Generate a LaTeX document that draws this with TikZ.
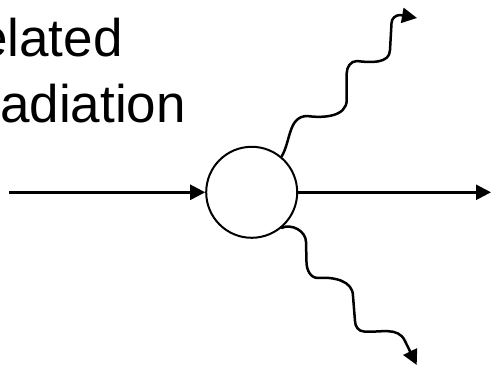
\documentclass[tikz,border=0pt]{standalone}
\usepackage{fontspec}
\setmainfont{Liberation Sans}
\usepackage{tkz-euclide}
\usetikzlibrary{arrows.meta}

\begin{document}
\begin{tikzpicture}[x=1pt,y=1pt,line join=round,
    ray/.style={line width=2.5pt,-{Triangle[length=15pt,width=15pt]}},
    wave/.style={ray,line cap=round},
    lbl/.style={anchor=base west,inner sep=0pt,font=\fontsize{53}{66}\selectfont}]
    \useasboundingbox (0,0) rectangle (491,366);
    \tkzDefPoints{9/173.7/L,491/173.7/R,251.7/173.7/O}
    \node[circle,draw,line width=2pt,minimum size=91pt,inner sep=0pt] (sc) at (O) {};
    \node[lbl] (top) at (-22,309) {elated};
    \node[lbl] (bot) at (0,243) {adiation};
    \draw[ray] (L) -- (sc);
    \draw[ray] (sc) -- (R);
    % photons
    \draw[wave] (sc.50) to[out=60,in=182] (307,250) to[out=-8,in=-90] (346.7,266)
        -- (346.7,292.7) to[out=90,in=180] (357,305) to[out=-8,in=-90] (390,316)
        -- (391.5,342.7) to[out=90,in=180] (400,351) -- (417,348);
    \draw[wave] (sc.-50) to[out=25,in=90] (306,124) -- (306.5,104)
        to[out=-90,in=180] (318,88) to[out=5,in=90] (353,70) -- (355,45)
        to[out=-90,in=180] (364,34.5) to[out=-5,in=115] (405,25) -- (416.7,1);
\end{tikzpicture}
\end{document}
